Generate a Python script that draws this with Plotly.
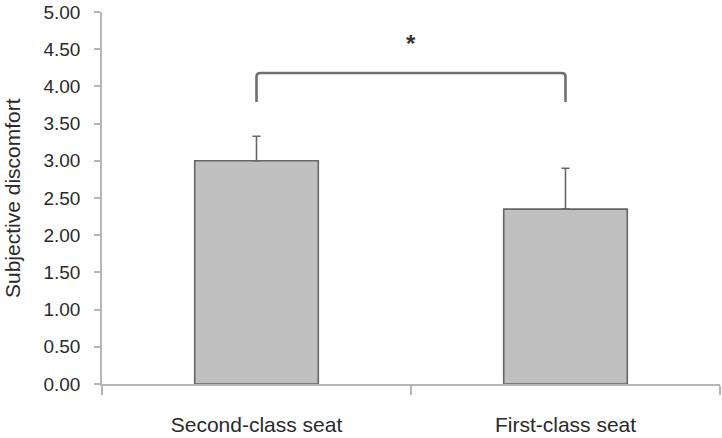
import plotly.graph_objects as go

categories = ["Second-class seat", "First-class seat"]
means = [3.00, 2.35]
errors_up = [0.33, 0.55]
y_ticks = [0, 0.5, 1, 1.5, 2, 2.5, 3, 3.5, 4, 4.5, 5]
sig_label = "*"
bracket_y = 4.18
bracket_foot = 3.79
star_y = 4.57

xpos = list(range(len(categories)))
FONT = "Liberation Sans, Arial, sans-serif"

fig = go.Figure()
fig.add_trace(go.Bar(
    x=xpos, y=means, width=0.4,
    marker=dict(color="#c0c0c0", line=dict(color="#666666", width=1.6)),
    error_y=dict(type="data", array=errors_up, arrayminus=[0] * len(means),
                 symmetric=False, color="#666666", thickness=1.6, width=4),
    showlegend=False,
))

# significance bracket from bar centre to bar centre
x0, x1 = xpos[0], xpos[1]
rx, ry = 0.013, 0.05
path = (f"M {x0},{bracket_foot} L {x0},{bracket_y - ry} "
        f"Q {x0},{bracket_y} {x0 + rx},{bracket_y} "
        f"L {x1 - rx},{bracket_y} Q {x1},{bracket_y} {x1},{bracket_y - ry} "
        f"L {x1},{bracket_foot}")
fig.add_shape(type="path", path=path, xref="x", yref="y",
              line=dict(color="#6e6e6e", width=2.6))
fig.add_annotation(x=(x0 + x1) / 2, y=star_y, xref="x", yref="y", text=sig_label,
                   showarrow=False, font=dict(size=24, color="#333", family=FONT, weight="bold"))

fig.add_annotation(x=-102 / 618 + 12 / 618, y=0.5, xref="paper", yref="paper",
                   text="Subjective discomfort", textangle=-90, showarrow=False,
                   xanchor="center", yanchor="middle",
                   font=dict(size=21, color="#2a2a2a", family=FONT))

fig.update_layout(
    width=722, height=438,
    margin=dict(l=102, r=2, t=11, b=50),
    paper_bgcolor="white", plot_bgcolor="white",
    font=dict(family=FONT, color="#2a2a2a"),
    xaxis=dict(
        range=[-0.5, 1.5], tickmode="array", tickvals=xpos, ticktext=categories,
        ticks="", showgrid=False, zeroline=False,
        showline=True, linecolor="#b5b5b5", linewidth=1.5,
        tickfont=dict(size=21, color="#2a2a2a"), ticklabelstandoff=21,
        minor=dict(tickmode="array", tickvals=[-0.5, 0.5, 1.5], ticks="outside",
                   ticklen=9, tickcolor="#b5b5b5", tickwidth=1.5, showgrid=False),
    ),
    yaxis=dict(
        range=[0, 5], tickmode="array", tickvals=y_ticks, tickformat=".2f",
        ticks="outside", ticklen=6, tickcolor="#b5b5b5", tickwidth=1.5,
        showgrid=False, zeroline=False,
        showline=True, linecolor="#b5b5b5", linewidth=1.5,
        tickfont=dict(size=19, color="#2a2a2a"), ticklabelstandoff=10,
    ),
)

fig.write_html("out.html")
